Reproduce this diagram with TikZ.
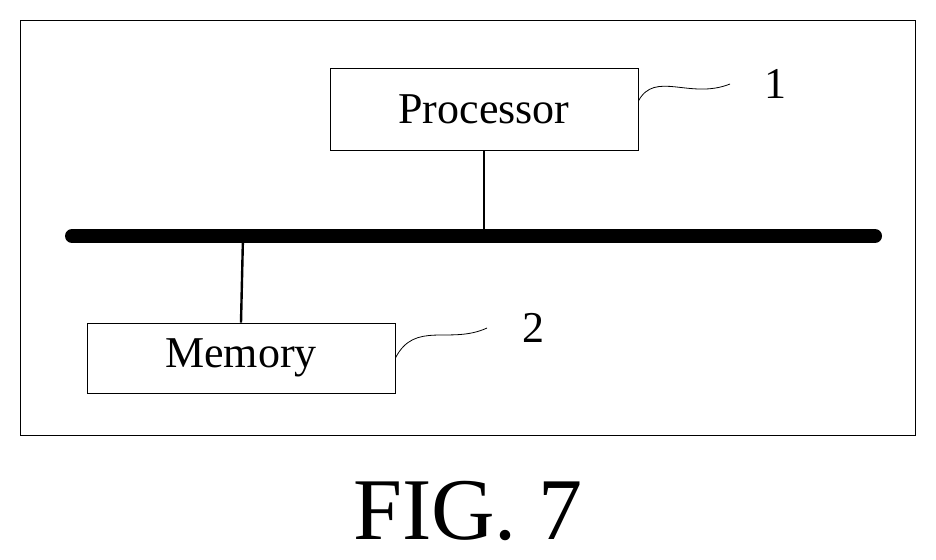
\documentclass[tikz,border=0pt]{standalone}
\usepackage{fontspec}
\setmainfont{Liberation Serif}
\begin{document}
\begin{tikzpicture}[x=0.5pt,y=-0.5pt,
    box/.style={draw,rectangle,inner sep=0pt,font=\fontsize{22}{24}\selectfont},
    lbl/.style={font=\fontsize{22}{24}\selectfont}]
    \useasboundingbox (0,0) rectangle (936,559);

    % outer frame
    \draw (20,20) rectangle (915,435);

    % units
    \node[box,minimum width=154pt,minimum height=41pt] (proc) at (484,109) {Processor};
    \node[box,minimum width=154pt,minimum height=35pt] (mem) at (241,358) {Memory};

    % bus
    \coordinate (busL) at (72,236);
    \coordinate (busR) at (875,236);
    \draw[line width=7pt,line cap=round] (busL) -- (busR);
    \draw[line width=1.2pt] (proc.south) -- (proc.south |- busL);
    \draw[line width=1.2pt] (mem.north) -- (243,236);

    % reference numerals
    \node[lbl] (n1) at (775,84) {1};
    \node[lbl] (n2) at (533,328) {2};
    \draw (proc.east) ++(0,-8) .. controls (655,70) and (690,100) .. (730,84);
    \draw (mem.east) .. controls (415,320) and (450,345) .. (487,328);

    % caption
    \node[font=\fontsize{44}{48}\selectfont] (cap) at (468,511) {FIG. 7};
\end{tikzpicture}
\end{document}
